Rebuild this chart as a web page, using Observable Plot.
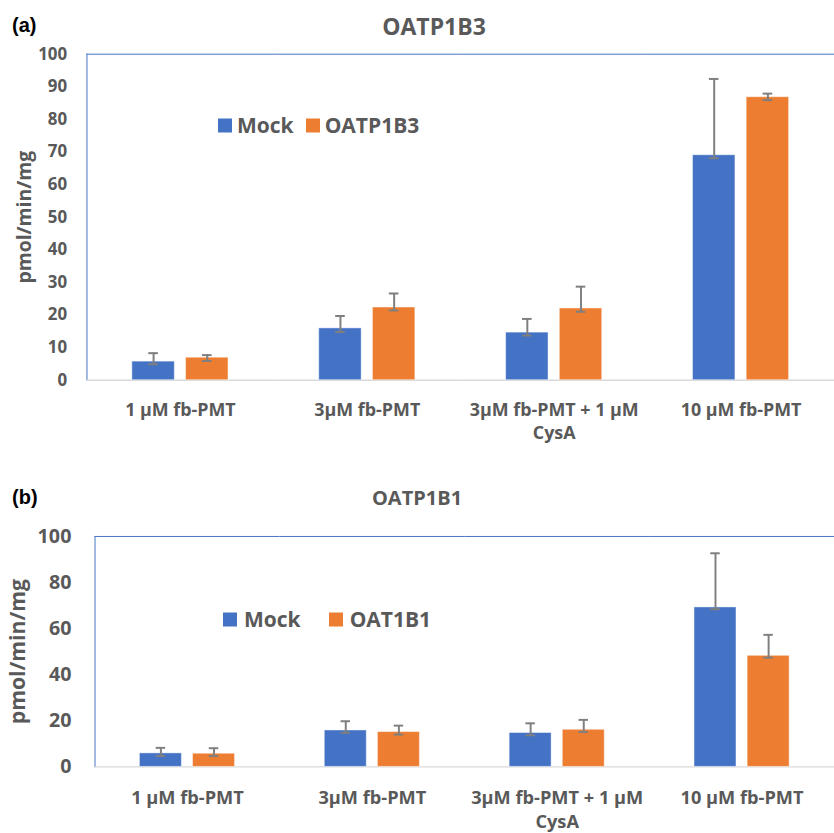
<!DOCTYPE html>
<html><head><meta charset="utf-8">
<script src="https://cdn.jsdelivr.net/npm/d3@7"></script>
<script src="https://cdn.jsdelivr.net/npm/@observablehq/plot@0.6"></script>
<style>
body{margin:0;background:#fff;overflow:hidden;}
#wrap{position:relative;width:834px;height:833px;overflow:hidden;font-family:"Open Sans",sans-serif;background:#fff;}
.abs{position:absolute;white-space:nowrap;line-height:1;}
.tag{font-family:"Liberation Sans",Arial,sans-serif;font-weight:bold;font-size:20px;color:#000;transform:translateY(-50%);}
.title{font-weight:bold;color:#595959;transform:translate(-50%,-50%);}
.legend{display:flex;align-items:center;font-weight:bold;color:#595959;transform:translateY(-50%);}
.sw{width:14px;height:14px;display:inline-block;}
.plotbox{position:absolute;left:0;}
</style></head><body><div id="wrap"></div>
<script>
const categories = ["1 µM fb-PMT", "3µM fb-PMT", "3µM fb-PMT + 1 µM CysA", "10 µM fb-PMT"];
const tickLabels = ["1 µM fb-PMT", "3µM fb-PMT", "3µM fb-PMT + 1 µM\nCysA", "10 µM fb-PMT"];
const seriesA = ["Mock", "OATP1B3"];
const seriesB = ["Mock", "OAT1B1"];
const seriesColors = ["#4472C4", "#ED7D31"];
const yTicksA = [0, 10, 20, 30, 40, 50, 60, 70, 80, 90, 100];
const yTicksB = [0, 20, 40, 60, 80, 100];

// Panel (a) OATP1B3
const mockA = [5.7, 15.9, 14.6, 69.0];
const mockAHi = [8.3, 19.7, 18.8, 92.4];
const mockALo = [4.9, 14.8, 13.7, 68.1];
const oatpA = [6.9, 22.3, 22.0, 86.8];
const oatpAHi = [7.7, 26.6, 28.7, 87.9];
const oatpALo = [5.9, 21.4, 21.0, 85.9];

// Panel (b) OATP1B1
const mockB = [5.85, 15.8, 14.7, 69.2];
const mockBHi = [8.25, 19.8, 18.9, 92.7];
const mockBLo = [4.7, 14.8, 13.7, 68.4];
const oatB = [5.7, 15.1, 16.1, 48.2];
const oatBHi = [8.1, 17.9, 20.4, 57.3];
const oatBLo = [4.7, 14.0, 15.1, 47.4];

function rows(series, vals, his, los) {
  return categories.flatMap((c, i) => series.map((s, j) => ({cat: c, series: s, value: vals[j][i], hi: his[j][i], lo: los[j][i]})));
}
const dataA = rows(seriesA, [mockA, oatpA], [mockAHi, oatpAHi], [mockALo, oatpALo]);
const dataB = rows(seriesB, [mockB, oatB], [mockBHi, oatBHi], [mockBLo, oatBLo]);

function panel(o) {
  const errStroke = "#7F7F7F";
  return Plot.plot({
    width: o.width, height: o.height,
    marginLeft: o.marginLeft, marginRight: 0, marginTop: o.marginTop, marginBottom: o.marginBottom,
    style: {fontFamily: "Open Sans", color: "#595959", background: "transparent", overflow: "visible"},
    fx: {domain: categories, padding: 0, round: false},
    x: {domain: o.series, paddingInner: 0.21, paddingOuter: 0.845, round: false, axis: null},
    y: {domain: [0, 100]},
    color: {domain: o.series, range: seriesColors},
    marks: [
      Plot.ruleY([100], {stroke: "#4472C4", strokeWidth: 1}),
      Plot.frame({anchor: "left", fx: [categories[0]], stroke: "#4472C4", strokeWidth: 1}),
      Plot.ruleY([0], {stroke: "#D9D9D9", strokeWidth: 1.5}),
      Plot.barY(o.data, {fx: "cat", x: "series", y: "value", fill: "series", stroke: "white", strokeOpacity: 0.45, strokeWidth: 1}),
      Plot.ruleX(o.data, {fx: "cat", x: "series", y1: "lo", y2: "hi", stroke: errStroke, strokeWidth: 2}),
      Plot.tickY(o.data, {fx: "cat", x: "series", y: "hi", stroke: errStroke, strokeWidth: 2, insetLeft: 16.5, insetRight: 16.5}),
      Plot.tickY(o.data, {fx: "cat", x: "series", y: "lo", stroke: errStroke, strokeWidth: 2, insetLeft: 16.5, insetRight: 16.5}),
      Plot.axisY({ticks: o.yTicks, tickSize: 0, tickPadding: o.yPad, fontSize: o.tickFont, fontWeight: "bold", label: null}),
      Plot.axisY({ticks: [], label: "pmol/min/mg", labelAnchor: "center", labelArrow: "none", labelOffset: o.labelOffset, fontSize: o.labelFont, fontWeight: "bold"}),
      Plot.axisFx({anchor: "bottom", tickSize: 0, tickPadding: o.xPad, fontSize: o.xFont, fontWeight: "bold", label: null, lineHeight: o.lineHeight,
        tickFormat: d => tickLabels[categories.indexOf(d)]})
    ]
  });
}

const wrap = document.getElementById("wrap");
function addDiv(cls, style, html) {
  const d = document.createElement("div");
  d.className = cls; d.setAttribute("style", style); d.innerHTML = html; wrap.appendChild(d); return d;
}
function legend(series, left, cy, font, textGap, itemGap) {
  const lg = addDiv("abs legend", `left:${left}px;top:${cy}px;font-size:${font}px;`, "");
  series.forEach((s, i) => {
    const sw = document.createElement("span");
    sw.className = "sw"; sw.style.background = seriesColors[i]; sw.style.marginRight = textGap + "px";
    if (i > 0) sw.style.marginLeft = itemGap + "px";
    const t = document.createElement("span"); t.textContent = s;
    lg.appendChild(sw); lg.appendChild(t);
  });
}

// Panel (a)
const pa = panel({series: seriesA, data: dataA, yTicks: yTicksA, width: 839, height: 450, marginLeft: 87, marginTop: 54, marginBottom: 68,
  tickFont: 17, yPad: 20, labelFont: 19.5, labelOffset: 70, xFont: 18, xPad: 19, lineHeight: 1.3});
const boxA = document.createElement("div"); boxA.className = "plotbox"; boxA.style.top = "0px"; boxA.appendChild(pa); wrap.appendChild(boxA);

// Panel (b)
const pb = panel({series: seriesB, data: dataB, yTicks: yTicksB, width: 847, height: 363, marginLeft: 96, marginTop: 67, marginBottom: 62,
  tickFont: 20, yPad: 24, labelFont: 21.5, labelOffset: 86, xFont: 18.5, xPad: 21, lineHeight: 1.3});
const boxB = document.createElement("div"); boxB.className = "plotbox"; boxB.style.top = "470px"; boxB.appendChild(pb); wrap.appendChild(boxB);

addDiv("abs tag", "left:12px;top:25px;", "(a)");
addDiv("abs title", "left:434px;top:26px;font-size:23px;", "OATP1B3");
addDiv("abs tag", "left:12px;top:497px;", "(b)");
addDiv("abs title", "left:417px;top:498px;font-size:20px;", "OATP1B1");
legend(seriesA, 218, 125, 21, 5, 12);
legend(seriesB, 223, 619, 21, 7, 28);
</script></body></html>
